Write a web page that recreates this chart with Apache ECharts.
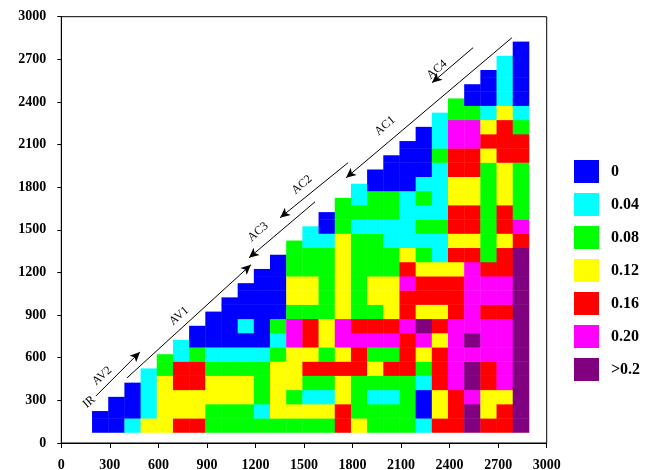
<!DOCTYPE html>
<html><head><meta charset="utf-8">
<script src="https://cdn.jsdelivr.net/npm/echarts@6/dist/echarts.min.js"></script>
<style>html,body{margin:0;padding:0;background:#fff}#c{width:645px;height:470px}</style>
</head><body><div id="c"></div><script>
// column centres (x) and row centres (y), in axis units
const colX = [240,340,440,540,640,740,840,940,1040,1140,1240,1340,1440,1540,1640,1740,1840,1940,2040,2140,2240,2340,2440,2540,2640,2740,2840];
const rowY = [122,222,322,422,522,622,722,822,922,1022,1122,1222,1322,1422,1522,1622,1722,1822,1922,2022,2122,2222,2322,2422,2522,2622,2722,2822];
// class labels and colours (legend)
const classLabels = ['0','0.04','0.08','0.12','0.16','0.20','>0.2'];
const classColors = ['#0000FF','#00FFFF','#00FF00','#FFFF00','#FF0000','#FF00FF','#800080'];
// class index of each cell, per column, from the bottom row upward (last = diagonal half cell)
const columns = [
 [0,0],
 [0,0,0],
 [1,0,0,0],
 [3,1,1,1,1],
 [3,3,3,3,2,2],
 [4,3,3,4,4,1,1],
 [4,3,3,4,4,2,0,0],
 [2,2,3,3,2,1,0,0,0],
 [2,2,3,3,2,1,0,0,0,0],
 [2,2,3,3,2,1,0,1,0,0,0],
 [2,1,2,2,2,1,0,0,0,0,0,0],
 [2,3,3,3,3,2,1,2,0,0,0,0,0],
 [2,3,2,3,3,3,5,5,2,3,3,2,2,2],
 [2,3,1,2,4,3,4,4,2,3,3,2,2,1,1],
 [2,3,1,2,4,2,3,3,2,2,2,2,2,1,0,0],
 [4,4,3,3,4,3,5,5,3,3,3,3,3,3,2,2,2],
 [3,2,2,2,4,4,5,4,2,2,2,2,2,2,1,2,1,1],
 [2,2,1,2,3,2,5,4,2,3,3,2,2,2,1,2,2,0,0],
 [2,2,1,2,4,2,5,4,3,3,3,2,2,1,1,2,2,0,0,0],
 [2,2,2,2,4,4,4,5,4,4,5,4,3,1,1,1,1,0,0,0,0],
 [1,0,0,1,2,3,5,6,3,4,4,3,2,1,2,1,2,1,0,0,0,0],
 [4,3,3,4,4,4,3,4,3,4,4,3,1,1,2,1,1,1,1,2,1,1,1],
 [4,4,4,5,5,5,5,5,4,4,4,3,4,3,4,4,3,3,4,4,5,5,2,2],
 [6,6,5,6,6,5,6,5,5,5,5,5,4,3,4,4,3,3,4,4,5,5,2,0,0],
 [4,3,3,4,4,5,5,5,4,5,5,4,2,2,2,2,2,2,2,3,4,3,1,0,0,0],
 [4,4,3,5,5,5,5,5,4,5,5,4,4,3,4,4,3,3,3,4,4,4,3,1,1,1,1],
 [6,6,6,6,6,6,6,6,6,6,6,6,6,4,5,2,2,2,2,4,4,2,1,0,0,0,0,0]
];
// region annotations (axis units)
const arrowLines = [
 {from:[214,331], to:[486,641], arrowAt:'end'},
 {from:[406,458], to:[1172,1254], arrowAt:'end'},
 {from:[1160,1303], to:[1568,1697], arrowAt:'start'},
 {from:[1352,1585], to:[1772,1972], arrowAt:'start'},
 {from:[1760,1866], to:[2785,2852], arrowAt:'start'},
 {from:[2291,2535], to:[2545,2782], arrowAt:'start'}
];
const regionLabels = [
 {name:'IR', at:[172,289]},
 {name:'AV2', at:[252,472]},
 {name:'AV1', at:[728,894]},
 {name:'AC3', at:[1216,1486]},
 {name:'AC2', at:[1487,1817]},
 {name:'AC1', at:[2001,2232]},
 {name:'AC4', at:[2322,2627]}
];
const axisTicks = [0,300,600,900,1200,1500,1800,2100,2400,2700,3000];

const data = [];
columns.forEach(function(col, c){
  col.forEach(function(v, j){
    data.push([colX[c], rowY[j], v, j === col.length - 1 ? 1 : 0]);
  });
});

const serif = 'Liberation Serif, Times New Roman, serif';
const chart = echarts.init(document.getElementById('c'), null, {renderer:'canvas'});
const axisCommon = {
  type:'value', min:axisTicks[0], max:axisTicks[axisTicks.length-1], interval:300,
  splitLine:{show:false},
  axisLine:{show:true, lineStyle:{color:'#000', width:1}},
  axisTick:{show:true, length:5, lineStyle:{color:'#000'}},
  axisLabel:{color:'#000', fontFamily:serif, fontWeight:'bold', fontSize:14, margin:15,
    formatter:function(v){ return String(v); }}
};
chart.setOption({
  animation:false,
  grid:{left:61.3, right:98.3, top:16.7, bottom:27, show:true, borderColor:'#000', borderWidth:1, backgroundColor:'transparent', containLabel:false, outerBoundsMode:'none'},
  xAxis:Object.assign({}, axisCommon),
  yAxis:Object.assign({}, axisCommon, {axisTick:{show:true, length:4, lineStyle:{color:'#000'}}}),
  visualMap:{
    type:'piecewise', dimension:2, orient:'vertical', left:574, top:160, align:'left', padding:0,
    itemWidth:25, itemHeight:23, itemGap:10, textGap:12, itemSymbol:'rect',
    selectedMode:false, hoverLink:false, inverse:true,
    textStyle:{color:'#000', fontFamily:serif, fontWeight:'bold', fontSize:16},
    pieces:classLabels.map(function(l, i){ return {value:i, label:l, color:classColors[i]}; })
  },
  series:[{
    type:'custom',
    data:data,
    encode:{x:0, y:1},
    silent:true,
    renderItem:function(params, api){
      const xc = api.value(0), yc = api.value(1), half = api.value(3);
      const p0 = api.coord([xc - 50, yc - 50]);
      const p1 = api.coord([xc + 50, half ? yc : yc + 50]);
      return {type:'rect', shape:{x:p0[0], y:p1[1] - 0.4, width:p1[0] - p0[0] + 0.4, height:p0[1] - p1[1] + 0.4},
        style:{fill:api.visual('color')}};
    },
    markLine:{
      silent:true, animation:false, symbol:['none','none'], symbolSize:[7,10],
      label:{show:false},
      lineStyle:{color:'#000', width:1, type:'solid'},
      emphasis:{disabled:true},
      data:arrowLines.map(function(a){
        return [
          {coord:a.from, symbol:a.arrowAt === 'start' ? 'arrow' : 'none', symbolSize:[7,10]},
          {coord:a.to, symbol:a.arrowAt === 'end' ? 'arrow' : 'none', symbolSize:[7,10]}
        ];
      })
    },
    markPoint:{
      silent:true, animation:false, symbol:'circle', symbolSize:1,
      itemStyle:{color:'rgba(0,0,0,0)'},
      label:{show:true, position:'inside', formatter:'{b}', rotate:41, color:'#000', fontFamily:serif, fontSize:12},
      data:regionLabels.map(function(r){ return {name:r.name, coord:r.at}; })
    }
  }]
});
</script></body></html>
